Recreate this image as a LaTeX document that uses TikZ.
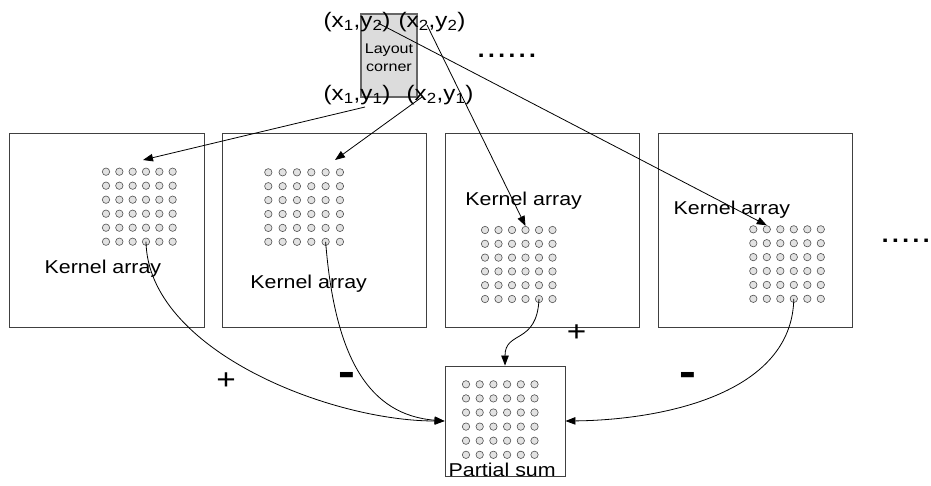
\documentclass[tikz,border=0pt]{standalone}
\usepackage{fontspec}
\setmainfont{Liberation Sans}[FakeStretch=1.15]
\usetikzlibrary{arrows.meta}
\newcommand{\fsz}[1]{\fontsize{#1}{#1}\selectfont}
\newcommand{\dotgrid}[5]{%
  \foreach \i in {1,...,6}{\foreach \j in {1,...,6}{%
    \node[kdot] (#1-\i-\j) at ({#2+(\i-1)*#4},{#3+(\j-1)*#5}) {};}}}
\definecolor{boxline}{HTML}{404040}
\definecolor{dotline}{HTML}{505050}
\definecolor{dotfill}{HTML}{E2E2E2}
\definecolor{lcfill}{HTML}{DCDCDC}
\definecolor{lcline}{HTML}{666666}
\begin{document}
\begin{tikzpicture}[x=1pt,y=-1pt,
  kbox/.style={draw=boxline,line width=0.9pt,minimum width=#1,minimum height=194pt,inner sep=0pt},
  kdot/.style={circle,draw=dotline,fill=dotfill,minimum size=7.4pt,inner sep=0pt,line width=0.6pt},
  lcbox/.style={draw=lcline,fill=lcfill,line width=1.1pt,minimum width=56pt,minimum height=83pt,inner sep=0pt},
  psbox/.style={draw=boxline,line width=0.9pt,minimum width=120pt,minimum height=110pt,inner sep=0pt},
  txt/.style={inner sep=0pt,anchor=base west,font=\fsz{18.6}},
  coordlbl/.style={inner sep=0pt,anchor=base west,font=\fsz{21}},
  sign/.style={inner sep=0pt,font=\fsz{29}},
  minus/.style={inner sep=0pt,font=\bfseries\fsz{44}},
  dots/.style={inner sep=0pt,anchor=base west,font=\fsz{32}},
  conn/.style={line width=0.8pt,-{Triangle[length=10pt,width=7.5pt]}}
]
\useasboundingbox (0,0) rectangle (931,485);

% layout corner
\node[lcbox] (lc) at (389,55.5) {};
\node[inner sep=0pt,align=center,font=\fontsize{14}{17.7}\selectfont] (lct) at (389,58) {Layout\\corner};
\node[coordlbl] (l12) at (323.5,27) {(x\textsubscript{1},y\textsubscript{2})};
\node[coordlbl] (l22) at (398.5,27) {(x\textsubscript{2},y\textsubscript{2})};
\node[coordlbl] (l11) at (323.5,100.5) {(x\textsubscript{1},y\textsubscript{1})};
\node[coordlbl] (l21) at (406.5,100.5) {(x\textsubscript{2},y\textsubscript{1})};
\node[dots] (dtop) at (476,57) {......\kern-7pt};
\node[dots] (dright) at (880,242) {.....\kern-7pt};

% kernel boxes
\node[kbox=195pt] (b1) at (106.5,230) {};
\node[kbox=204pt] (b2) at (324,230) {};
\node[kbox=194pt] (b3) at (542,230) {};
\node[kbox=194pt] (b4) at (755,230) {};
\node[psbox] (ps) at (505,421) {};

% dot grids
\dotgrid{g1}{106}{171.7}{13.33}{14}
\dotgrid{g2}{268.3}{172.3}{14.33}{13.9}
\dotgrid{g3}{485}{230}{13.5}{13.8}
\dotgrid{g4}{753.3}{229.3}{13.5}{13.9}
\dotgrid{gp}{466}{384.3}{13.7}{14.1}

% labels
\node[txt] (k1) at (44.5,273.3) {Kernel array};
\node[txt] (k2) at (250.2,288.3) {Kernel array};
\node[txt] (k3) at (465.2,205) {Kernel array};
\node[txt] (k4) at (673.5,214.3) {Kernel array};
\node[txt] (pst) at (448.5,476) {Partial sum};

% signs
\node[sign] (s1) at (226,381) {+};
\node[minus] (s2) at (347,379) {-};
\node[sign] (s3) at (576.7,333) {+};
\node[minus] (s4) at (688,379) {-};

% corner points and tips
\coordinate (c11) at (365,107);
\coordinate (c21) at (422,97);
\coordinate (c22) at (427,25);
\coordinate (c12) at (378,23);
\coordinate (t1) at (143,160);
\coordinate (t2) at (335,160);

\draw[conn] (c11) -- (t1);
\draw[conn] (c21) -- (t2);
\draw[conn] (c22) -- (g3-4-1.north);
\draw[conn] (c12) -- (g4-2-1.north);

% sums
\draw[conn] (g1-4-6.center) .. controls (148,350) and (330,421) .. (ps.west);
\draw[conn] (g2-5-6.center) .. controls (335,360) and (370,415) .. (ps.west);
\draw[conn] (g3-5-6.center) .. controls (537,345) and (505,330) .. (ps.north);
\draw[conn] (g4-4-6.center) .. controls (792,395) and (660,420) .. (ps.east);
\end{tikzpicture}
\end{document}
